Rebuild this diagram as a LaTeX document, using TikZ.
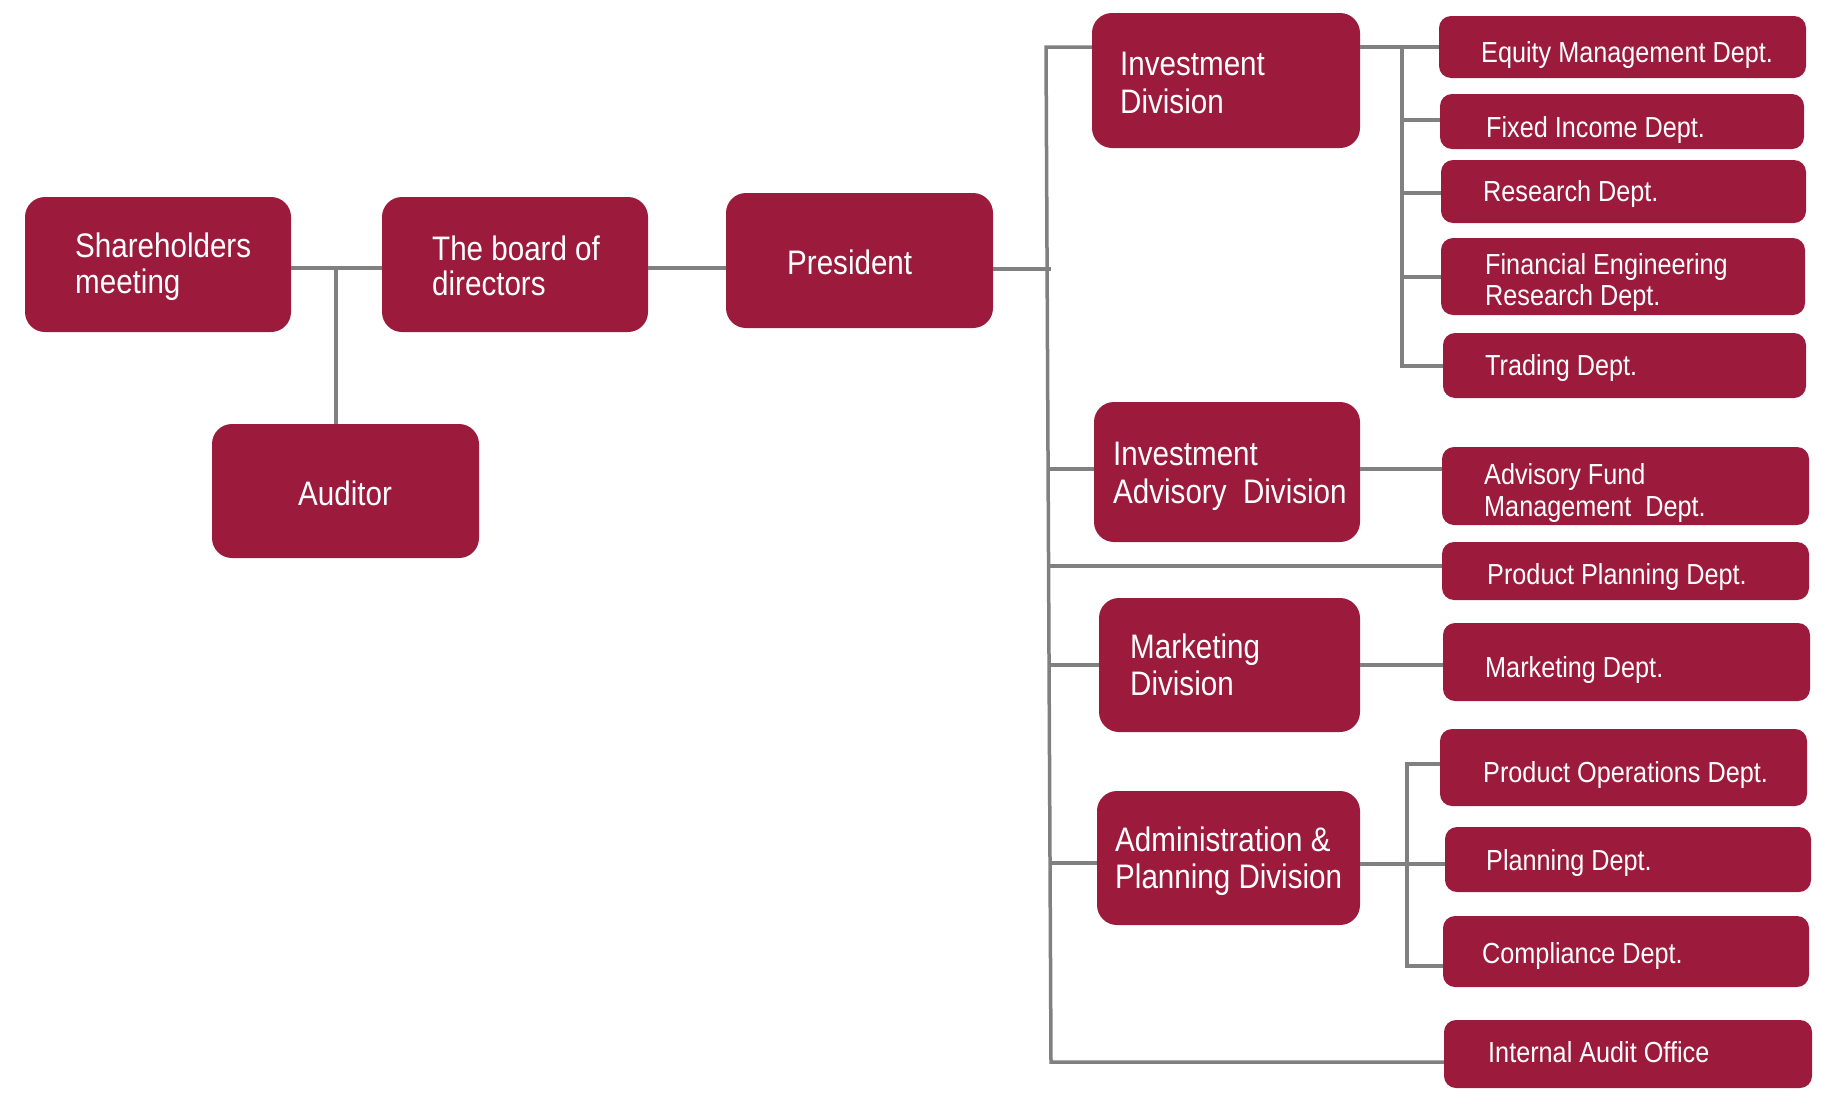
\documentclass[tikz,border=0pt]{standalone}
\usepackage{fontspec}
\newfontfamily\orgfont[FakeStretch=0.87]{Liberation Sans}
\usetikzlibrary{fit}
\definecolor{boxred}{RGB}{156,27,60}
\definecolor{linegray}{RGB}{128,128,128}
\newcommand\twoln[3]{\vtop{\baselineskip=#1pt\hbox{#2}\hbox{#3}}}
\tikzset{
  bigbox/.style={fill=boxred, draw=none, rounded corners=20pt, inner sep=0pt},
  smallbox/.style={fill=boxred, draw=none, rounded corners=12pt, inner sep=0pt},
  bigtxt/.style={anchor=base west, inner sep=0pt, text=white, font=\orgfont\fontsize{34}{40}\selectfont},
  smalltxt/.style={anchor=base west, inner sep=0pt, text=white, font=\orgfont\fontsize{29}{34}\selectfont},
  conn/.style={draw=linegray, line width=3.5pt}
}
\newcommand\orgbigbox[5]{\node[bigbox, fit={(#2,#3) (#4,#5)}] (#1) {};}
\newcommand\orgsmallbox[5]{\node[smallbox, fit={(#2,#3) (#4,#5)}] (#1) {};}
\begin{document}
\begin{tikzpicture}[x=1pt, y=-1pt]
\useasboundingbox (0,0) rectangle (1821,1103);

% connector junctions
\coordinate (jl) at (336,268);
\coordinate (j1) at (1046,47);
\coordinate (jpr) at (1047,269);
\coordinate (jiad) at (1048,469);
\coordinate (jpp) at (1048,566);
\coordinate (jmkd) at (1049,665);
\coordinate (jadm) at (1050,863);
\coordinate (jia) at (1051,1062);
\coordinate (s1) at (1402,47);
\coordinate (s2) at (1402,120);
\coordinate (s3) at (1402,193);
\coordinate (s4) at (1402,277);
\coordinate (s5) at (1402,366);
\coordinate (a1) at (1407,764);
\coordinate (a2) at (1407,864);
\coordinate (a3) at (1407,966);

% boxes
\orgbigbox{sh}{25}{197}{291}{332}
\orgbigbox{bd}{382}{197}{648}{332}
\orgbigbox{au}{212}{424}{479}{558}
\orgbigbox{pr}{726}{193}{993}{328}
\orgbigbox{inv}{1092}{13}{1360}{148}
\orgbigbox{iad}{1094}{402}{1360}{542}
\orgbigbox{mkd}{1099}{598}{1360}{732}
\orgbigbox{adm}{1097}{791}{1360}{925}
\orgsmallbox{eq}{1439}{16}{1806}{78}
\orgsmallbox{fi}{1440}{94}{1804}{149}
\orgsmallbox{rs}{1441}{160}{1806}{223}
\orgsmallbox{fe}{1441}{238}{1805}{315}
\orgsmallbox{tr}{1443}{333}{1806}{398}
\orgsmallbox{af}{1442}{447}{1809}{525}
\orgsmallbox{pp}{1442}{542}{1809}{600}
\orgsmallbox{mk}{1443}{623}{1810}{701}
\orgsmallbox{po}{1440}{729}{1807}{806}
\orgsmallbox{pl}{1445}{827}{1811}{892}
\orgsmallbox{co}{1443}{916}{1809}{987}
\orgsmallbox{ia}{1444}{1020}{1812}{1088}

% connectors
\draw[conn] (sh.east |- jl) -- (bd.west |- jl);
\draw[conn] (jl) -- (jl |- au.north);
\draw[conn] (bd.east |- jl) -- (pr.west |- jl);
\draw[conn] (pr.east |- jpr) -- ([xshift=4pt]jpr);
\draw[conn] (inv.west |- j1) -- (j1) -- (jia) -- (jia -| ia.west);
\draw[conn] (jiad) -- (jiad -| iad.west);
\draw[conn] (iad.east |- jiad) -- (jiad -| af.west);
\draw[conn] (jpp) -- (jpp -| pp.west);
\draw[conn] (jmkd) -- (jmkd -| mkd.west);
\draw[conn] (mkd.east |- jmkd) -- (jmkd -| mk.west);
\draw[conn] (jadm) -- (jadm -| adm.west);
\draw[conn] (adm.east |- a2) -- (a2 -| pl.west);
\draw[conn] (a1 -| po.west) -- (a1) -- (a3) -- (a3 -| co.west);
\draw[conn] (inv.east |- s1) -- (s1 -| eq.west);
\draw[conn] (s1) -- (s5) -- (s5 -| tr.west);
\draw[conn] (s2) -- (s2 -| fi.west);
\draw[conn] (s3) -- (s3 -| rs.west);
\draw[conn] (s4) -- (s4 -| fe.west);

% texts
\node[bigtxt] (sh-t) at (75,257) {\twoln{36}{Shareholders}{meeting}};
\node[bigtxt] (bd-t) at (432,260) {\twoln{35}{The board of}{directors}};
\node[bigtxt] (au-t) at (298,505) {Auditor};
\node[bigtxt] (pr-t) at (787,274) {President};
\node[bigtxt] (inv-t) at (1120,75) {\twoln{38}{Investment}{Division}};
\node[bigtxt] (iad-t) at (1113,465) {\twoln{38}{Investment}{Advisory\ \ Division}};
\node[bigtxt] (mkd-t) at (1130,658) {\twoln{37}{Marketing}{Division}};
\node[bigtxt] (adm-t) at (1115,851) {\twoln{37}{Administration \&}{Planning Division}};
\node[smalltxt] (eq-t) at (1481,62) {Equity Management Dept.};
\node[smalltxt] (fi-t) at (1486,137) {Fixed Income Dept.};
\node[smalltxt] (rs-t) at (1483,201) {Research Dept.};
\node[smalltxt] (fe-t) at (1485,274) {\twoln{31}{Financial Engineering}{Research Dept.}};
\node[smalltxt] (tr-t) at (1485,375) {Trading Dept.};
\node[smalltxt] (af-t) at (1484,484) {\twoln{32}{Advisory Fund}{Management\ \ Dept.}};
\node[smalltxt] (pp-t) at (1487,584) {Product Planning Dept.};
\node[smalltxt] (mk-t) at (1485,677) {Marketing Dept.};
\node[smalltxt] (po-t) at (1483,782) {Product Operations Dept.};
\node[smalltxt] (pl-t) at (1486,870) {Planning Dept.};
\node[smalltxt] (co-t) at (1482,963) {Compliance Dept.};
\node[smalltxt] (ia-t) at (1488,1062) {Internal Audit Office};
\end{tikzpicture}
\end{document}
